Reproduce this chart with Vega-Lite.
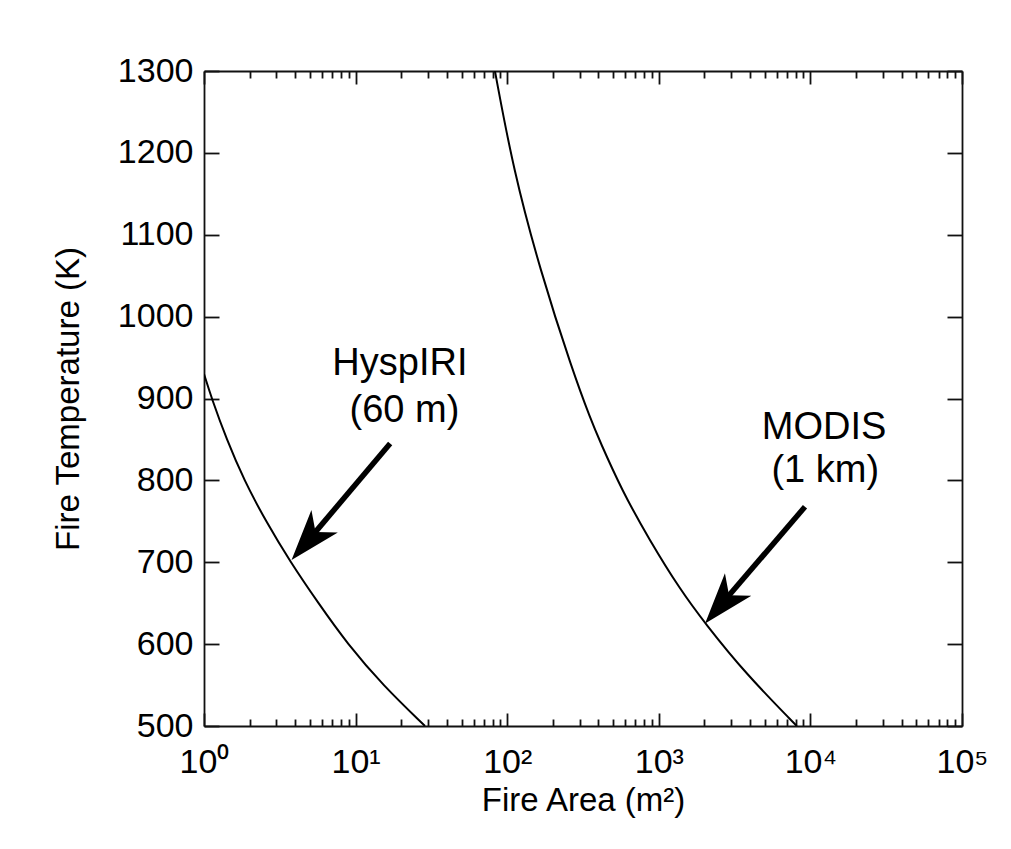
{
  "$schema": "https://vega.github.io/schema/vega-lite/v6.json",
  "width": 758,
  "height": 655,
  "autosize": {"type": "none"},
  "padding": {"left": 204, "top": 71, "right": 49, "bottom": 123},
  "background": "white",
  "config": {
    "view": {"stroke": null},
    "font": "Liberation Sans",
    "axis": {
      "domainColor": "#111",
      "domainWidth": 1.8,
      "tickColor": "#111",
      "tickWidth": 1.8,
      "grid": false,
      "labelColor": "#000",
      "titleColor": "#000",
      "labelFont": "Liberation Sans",
      "titleFont": "Liberation Sans",
      "labelFontSize": 34,
      "titleFontSize": 33,
      "titleFontWeight": "normal",
      "labelOverlap": false,
      "labelFlush": false
    }
  },
  "datasets": {
    "curves": [
      {"sensor": "HyspIRI", "area": 1.0, "temp": 930},
      {"sensor": "HyspIRI", "area": 1.124, "temp": 900},
      {"sensor": "HyspIRI", "area": 1.41, "temp": 850},
      {"sensor": "HyspIRI", "area": 1.84, "temp": 800},
      {"sensor": "HyspIRI", "area": 2.56, "temp": 750},
      {"sensor": "HyspIRI", "area": 3.72, "temp": 700},
      {"sensor": "HyspIRI", "area": 5.68, "temp": 650},
      {"sensor": "HyspIRI", "area": 8.85, "temp": 600},
      {"sensor": "HyspIRI", "area": 15.1, "temp": 550},
      {"sensor": "HyspIRI", "area": 28.7, "temp": 500},
      {"sensor": "MODIS", "area": 83, "temp": 1300},
      {"sensor": "MODIS", "area": 110, "temp": 1178.6},
      {"sensor": "MODIS", "area": 165, "temp": 1056.5},
      {"sensor": "MODIS", "area": 269, "temp": 934.5},
      {"sensor": "MODIS", "area": 357, "temp": 873.5},
      {"sensor": "MODIS", "area": 406, "temp": 849},
      {"sensor": "MODIS", "area": 570, "temp": 788},
      {"sensor": "MODIS", "area": 869, "temp": 727},
      {"sensor": "MODIS", "area": 1390, "temp": 666},
      {"sensor": "MODIS", "area": 2017, "temp": 625.5},
      {"sensor": "MODIS", "area": 3724, "temp": 564.3},
      {"sensor": "MODIS", "area": 8130, "temp": 500}
    ],
    "labels": [
      {"label": "HyspIRI", "area": 19.6, "temp": 928.4},
      {"label": "(60 m)", "area": 21.0, "temp": 871.4},
      {"label": "MODIS", "area": 12300, "temp": 851.1},
      {"label": "(1 km)", "area": 12530, "temp": 798.2}
    ],
    "arrows": [
      {"sensor": "HyspIRI", "area": 16.9, "temp": 845, "area2": 4.86, "temp2": 726.4},
      {"sensor": "MODIS", "area": 9210, "temp": 767.7, "area2": 2596, "temp2": 649}
    ]
  },
  "resolve": {"axis": {"x": "independent", "y": "independent"}},
  "layer": [
    {
      "data": {"name": "curves"},
      "mark": {"type": "line", "color": "#000", "strokeWidth": 2, "interpolate": "basis", "clip": true},
      "encoding": {
        "x": {
          "field": "area", "type": "quantitative",
          "scale": {"type": "log", "domain": [1, 100000], "nice": false},
          "axis": {
            "orient": "bottom",
            "values": [1,2,3,4,5,6,7,8,9,10,20,30,40,50,60,70,80,90,100,200,300,400,500,600,700,800,900,1000,2000,3000,4000,5000,6000,7000,8000,9000,10000,20000,30000,40000,50000,60000,70000,80000,90000,100000],
            "tickSize": {"condition": {"test": "indexof([1,10,100,1000,10000,100000], datum.value) >= 0", "value": -13}, "value": -7},
            "labelPadding": 32,
            "labelExpr": "datum.value == 1 ? '10⁰' : datum.value == 10 ? '10¹' : datum.value == 100 ? '10²' : datum.value == 1000 ? '10³' : datum.value == 10000 ? '10⁴' : datum.value == 100000 ? '10⁵' : ''",
            "title": "Fire Area (m²)",
            "titleBaseline": "alphabetic",
            "titleY": 84
          }
        },
        "y": {
          "field": "temp", "type": "quantitative",
          "scale": {"domain": [500, 1300], "nice": false, "zero": false},
          "axis": {
            "orient": "left",
            "values": [500,600,700,800,900,1000,1100,1200,1300],
            "format": "d",
            "tickSize": -15,
            "labelPadding": 26,
            "title": "Fire Temperature (K)",
            "titleBaseline": "alphabetic",
            "titleX": -126
          }
        },
        "detail": {"field": "sensor"}
      }
    },
    {
      "data": {"name": "labels"},
      "mark": {"type": "text", "font": "Liberation Sans", "fontSize": 38, "align": "center", "baseline": "alphabetic", "color": "#000"},
      "encoding": {
        "x": {
          "field": "area", "type": "quantitative",
          "scale": {"type": "log", "domain": [1, 100000], "nice": false},
          "axis": {
            "orient": "top",
            "values": [1,2,3,4,5,6,7,8,9,10,20,30,40,50,60,70,80,90,100,200,300,400,500,600,700,800,900,1000,2000,3000,4000,5000,6000,7000,8000,9000,10000,20000,30000,40000,50000,60000,70000,80000,90000,100000],
            "tickSize": {"condition": {"test": "indexof([1,10,100,1000,10000,100000], datum.value) >= 0", "value": -13}, "value": -7},
            "labels": false,
            "title": null
          }
        },
        "y": {
          "field": "temp", "type": "quantitative",
          "scale": {"domain": [500, 1300], "nice": false, "zero": false},
          "axis": {
            "orient": "right",
            "values": [500,600,700,800,900,1000,1100,1200,1300],
            "tickSize": -15,
            "labels": false,
            "title": null
          }
        },
        "text": {"field": "label", "type": "nominal"}
      }
    },
    {
      "data": {"name": "arrows"},
      "mark": {"type": "rule", "color": "#000", "strokeWidth": 5.5},
      "encoding": {
        "x": {"field": "area", "type": "quantitative", "scale": {"type": "log", "domain": [1, 100000], "nice": false}, "axis": null},
        "y": {"field": "temp", "type": "quantitative", "scale": {"domain": [500, 1300], "nice": false, "zero": false}, "axis": null},
        "x2": {"field": "area2"},
        "y2": {"field": "temp2"}
      }
    },
    {
      "data": {"name": "arrows"},
      "mark": {"type": "point", "shape": "M0,-1L0.68,1L0,0.45L-0.68,1Z", "filled": true, "color": "#000", "opacity": 1, "size": 2601, "angle": 220.4, "strokeWidth": 0},
      "encoding": {
        "x": {"field": "area2", "type": "quantitative", "scale": {"type": "log", "domain": [1, 100000], "nice": false}, "axis": null},
        "y": {"field": "temp2", "type": "quantitative", "scale": {"domain": [500, 1300], "nice": false, "zero": false}, "axis": null}
      }
    }
  ]
}
